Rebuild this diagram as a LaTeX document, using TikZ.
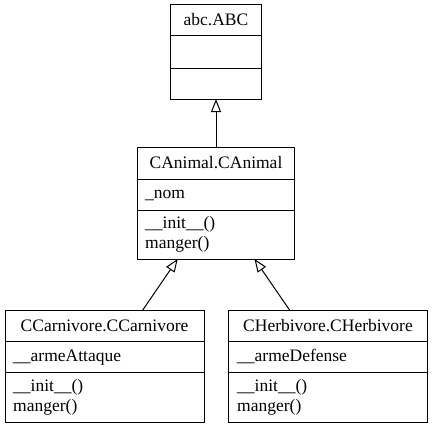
\documentclass[tikz,border=0pt]{standalone}
\usepackage{fontspec}
\setmainfont{Liberation Serif}
\usetikzlibrary{arrows.meta}

\tikzset{
  classbox/.style={draw, rectangle, line width=1pt, inner sep=0pt, outer sep=0pt},
  classname/.style={anchor=base, inner sep=0pt, font=\fontsize{17.5}{20}\selectfont},
  member/.style={anchor=base west, inner sep=0pt, font=\fontsize{17.5}{20}\selectfont},
  inherit/.style={line width=1pt, -{Triangle[open, length=13pt, width=10pt]}},
}

\begin{document}
\begin{tikzpicture}[x=1pt, y=-1pt]
\useasboundingbox (0,0) rectangle (435,428);

% Class boxes
\node[classbox, minimum width=91pt, minimum height=94pt] (abc) at (216,52) {};
\node[classbox, minimum width=157pt, minimum height=112pt] (animal) at (216,203) {};
\node[classbox, minimum width=199pt, minimum height=112pt] (carn) at (104.5,366) {};
\node[classbox, minimum width=199pt, minimum height=112pt] (herb) at (328,366) {};

% Compartment lines
\foreach \c/\ya/\yb in {abc/36/68, animal/179/210, carn/341/372, herb/341/372} {
   \draw[line width=1pt] (\c.west |- 0,\ya) -- (\c.east |- 0,\ya)
                         (\c.west |- 0,\yb) -- (\c.east |- 0,\yb);
}

% Names
\node[classname] (abc-name) at (216,26) {abc.ABC};
\node[classname] (animal-name) at (216,168) {CAnimal.CAnimal};
\node[classname] (carn-name) at (104.5,331) {CCarnivore.CCarnivore};
\node[classname] (herb-name) at (328,331) {CHerbivore.CHerbivore};

% Attributes and methods
\node[member] (animal-attr) at (145,198) {\_nom};
\node[member] (carn-attr) at (13,361) {\_\_armeAttaque};
\node[member] (herb-attr) at (237,361) {\_\_armeDefense};
\foreach \c/\x/\y in {animal/145/228, carn/13/391, herb/237/391} {
   \node[member] (\c-init) at (\x,\y) {\_\_init\_\_()};
   \node[member] (\c-eat) at (\x,\y+20) {manger()};
}

% Inheritance
\draw[inherit] (animal) -- (abc);
\draw[inherit] (carn) -- (animal);
\draw[inherit] (herb) -- (animal);
\end{tikzpicture}
\end{document}
